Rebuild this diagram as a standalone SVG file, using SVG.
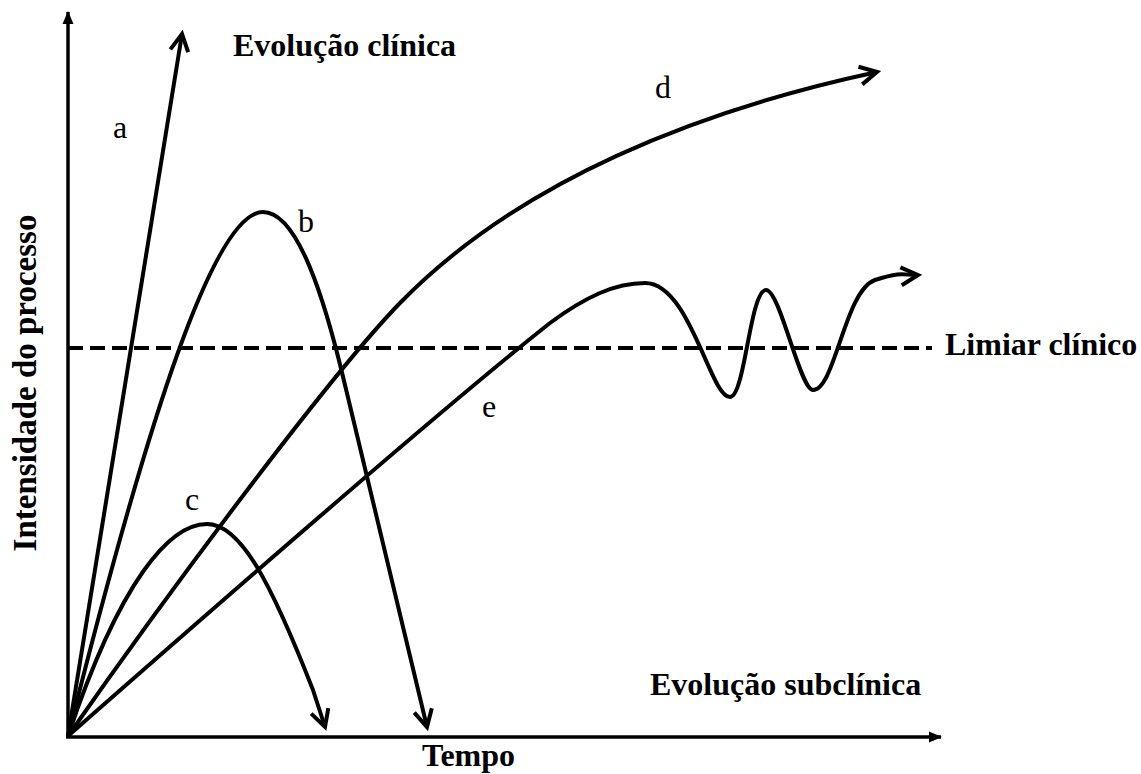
<svg xmlns="http://www.w3.org/2000/svg" width="1141" height="774" viewBox="0 0 1141 774">
<defs>
<style>
.curve{fill:none;stroke:#000;stroke-width:4;stroke-linejoin:round}
.axis{fill:none;stroke:#000;stroke-width:3.5}
.dash{fill:none;stroke:#000;stroke-width:4;stroke-dasharray:15 7}
text{fill:#000}
</style>
<marker id="open" markerUnits="userSpaceOnUse" markerWidth="40" markerHeight="40" viewBox="-20 -20 40 40" refX="0" refY="0" orient="auto" overflow="visible">
<path d="M-17,-9 L0,0 L-17,9" fill="none" stroke="#000" stroke-width="4" stroke-linejoin="miter"/>
</marker>
<marker id="solid" markerUnits="userSpaceOnUse" markerWidth="30" markerHeight="30" viewBox="-15 -15 30 30" refX="0" refY="0" orient="auto" overflow="visible">
<path d="M-12,-5.5 L1,0 L-12,5.5 Z" fill="#000"/>
</marker>
</defs>
<rect width="1141" height="774" fill="#fff"/>
<g id="axes">
<path class="axis" d="M68,738 L68,12" marker-end="url(#solid)"/>
<path class="axis" d="M66,737 L941,737" marker-end="url(#solid)"/>
</g>
<g id="threshold">
<path class="dash" d="M68,348 L932,348"/>
</g>
<g id="connectors">
<path id="curve-a" class="curve" d="M68,736 L182,34" marker-end="url(#open)"/>
<path id="curve-b" class="curve" d="M68,736 C150,410 215,212 263,212 C298,212 325,300 345,385 L427,727" marker-end="url(#open)"/>
<path id="curve-c" class="curve" d="M68,736 C120,580 170,524 207,524 C240,524 270,580 313,690 L325,727" marker-end="url(#open)"/>
<path id="curve-d" class="curve" d="M68,736 C170,590 330,375 400,303 C520,180 700,110 877,72" marker-end="url(#open)"/>
<path id="curve-e" class="curve" d="M68,736 C200,620 450,402 550,323 C585,297 615,283 645,283 C690,283 710,397 730,397 C745,397 750,290 766,290 C780,290 800,390 813,390 C835,390 845,290 875,280 S905,276 918,275" marker-end="url(#open)"/>
</g>
<g font-family="'Liberation Serif', Tinos, 'Times New Roman', Times, 'DejaVu Serif', serif" font-size="32">
<g id="label-a"><text x="113" y="138">a</text></g>
<g id="label-b"><text x="298" y="232">b</text></g>
<g id="label-c"><text x="185" y="510">c</text></g>
<g id="label-d"><text x="655" y="98">d</text></g>
<g id="label-e"><text x="482" y="417">e</text></g>
<g id="title-clinica"><text font-weight="bold" x="233" y="56">Evolução clínica</text></g>
<g id="title-limiar"><text font-weight="bold" x="945" y="355">Limiar clínico</text></g>
<g id="title-subclinica"><text font-weight="bold" x="650" y="695">Evolução subclínica</text></g>
<g id="axis-x-label"><text font-weight="bold" x="422" y="766">Tempo</text></g>
<g id="axis-y-label"><text font-weight="bold" font-size="33" text-anchor="middle" transform="translate(36,383) rotate(-90)">Intensidade do processo</text></g>
</g>
</svg>
